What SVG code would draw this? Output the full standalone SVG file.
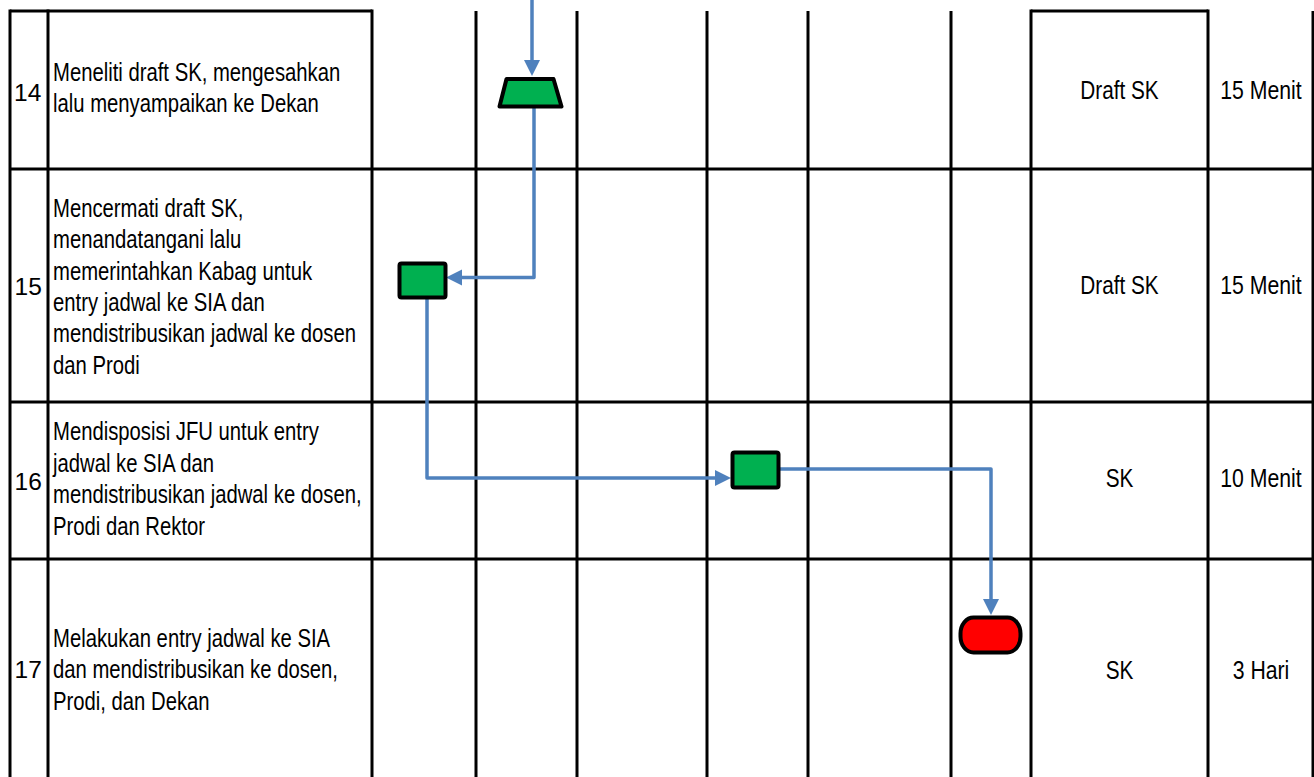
<svg xmlns="http://www.w3.org/2000/svg" width="1314" height="777" viewBox="0 0 1314 777">
  <defs>
    <marker id="arrow" markerUnits="userSpaceOnUse" markerWidth="18" markerHeight="17" refX="1" refY="8" orient="auto">
      <path d="M0,0 L16,8 L0,16 Z" fill="#4F81BD"/>
    </marker>
  </defs>
  <style>
    .grid line { stroke: #000; stroke-width: 3; }
    .desc { font-family: "Liberation Sans", Arial, sans-serif; font-size: 26px; fill: #000; }
    .num { font-family: "Liberation Sans", Arial, sans-serif; font-size: 24.5px; fill: #000; }
    .cell { font-family: "Liberation Sans", Arial, sans-serif; font-size: 25px; fill: #000; text-anchor: middle; }
    .proc { fill: #00B050; stroke: #000; stroke-width: 4; stroke-linejoin: round; }
    .term { fill: #FF0000; stroke: #000; stroke-width: 4; }
    .conn { fill: none; stroke: #4F81BD; stroke-width: 3.5; stroke-linejoin: round; marker-end: url(#arrow); }
  </style>
  <rect width="1314" height="777" fill="#fff"/>

  <!-- table grid -->
  <g id="grid" class="grid">
    <line x1="10" y1="11" x2="372" y2="11"/>
    <line x1="1031" y1="11" x2="1208" y2="11"/>
    <line x1="10" y1="169" x2="1314" y2="169"/>
    <line x1="10" y1="402" x2="1314" y2="402"/>
    <line x1="10" y1="559" x2="1314" y2="559"/>
    <line x1="10" y1="9.5" x2="10" y2="777"/>
    <line x1="48" y1="9.5" x2="48" y2="777"/>
    <line x1="372" y1="9.5" x2="372" y2="777"/>
    <line x1="476" y1="11" x2="476" y2="777"/>
    <line x1="577" y1="11" x2="577" y2="777"/>
    <line x1="707" y1="11" x2="707" y2="777"/>
    <line x1="808" y1="11" x2="808" y2="777"/>
    <line x1="951" y1="11" x2="951" y2="777"/>
    <line x1="1031" y1="9.5" x2="1031" y2="777"/>
    <line x1="1208" y1="9.5" x2="1208" y2="777"/>
    <line x1="1313" y1="11" x2="1313" y2="777"/>
  </g>

  <!-- step rows -->
  <g id="row-14">
    <text class="num" x="14" y="101">14</text>
    <text class="desc" transform="translate(53,81) scale(0.78,1)"><tspan x="0" y="0">Meneliti draft SK, mengesahkan</tspan><tspan x="0" y="31">lalu menyampaikan ke Dekan</tspan></text>
    <text class="cell" transform="translate(1119.5,99) scale(0.83,1)">Draft SK</text>
    <text class="cell" transform="translate(1261,99) scale(0.85,1)">15 Menit</text>
  </g>
  <g id="row-15">
    <text class="num" x="14.5" y="295">15</text>
    <text class="desc" transform="translate(53,217) scale(0.78,1)"><tspan x="0" y="0">Mencermati draft SK,</tspan><tspan x="0" y="31.3">menandatangani lalu</tspan><tspan x="0" y="62.6">memerintahkan Kabag untuk</tspan><tspan x="0" y="94">entry jadwal ke SIA dan</tspan><tspan x="0" y="125.3">mendistribusikan jadwal ke dosen</tspan><tspan x="0" y="156.6">dan Prodi</tspan></text>
    <text class="cell" transform="translate(1119.5,294) scale(0.83,1)">Draft SK</text>
    <text class="cell" transform="translate(1261,294) scale(0.85,1)">15 Menit</text>
  </g>
  <g id="row-16">
    <text class="num" x="14.5" y="490">16</text>
    <text class="desc" transform="translate(53,440) scale(0.78,1)"><tspan x="0" y="0">Mendisposisi JFU untuk entry</tspan><tspan x="0" y="31.7">jadwal ke SIA dan</tspan><tspan x="0" y="63.3">mendistribusikan jadwal ke dosen,</tspan><tspan x="0" y="95">Prodi dan Rektor</tspan></text>
    <text class="cell" transform="translate(1119.5,487) scale(0.83,1)">SK</text>
    <text class="cell" transform="translate(1261,487) scale(0.85,1)">10 Menit</text>
  </g>
  <g id="row-17">
    <text class="num" x="14.5" y="678">17</text>
    <text class="desc" transform="translate(53,647) scale(0.78,1)"><tspan x="0" y="0">Melakukan entry jadwal ke SIA</tspan><tspan x="0" y="31.5">dan mendistribusikan ke dosen,</tspan><tspan x="0" y="63">Prodi, dan Dekan</tspan></text>
    <text class="cell" transform="translate(1119.5,679) scale(0.83,1)">SK</text>
    <text class="cell" transform="translate(1261,679) scale(0.85,1)">3 Hari</text>
  </g>

  <!-- connectors -->
  <g id="connectors">
    <path class="conn" d="M532,0 V61"/>
    <path class="conn" d="M534,107 V277.5 H461"/>
    <path class="conn" d="M427,298 V478 H716"/>
    <path class="conn" d="M779,469 H991 V600"/>
  </g>

  <!-- flow symbols -->
  <g id="manual-op-14">
    <polygon class="proc" points="506.5,79 553.5,79 561.5,106.5 499.5,106.5"/>
  </g>
  <g id="process-15">
    <rect class="proc" x="399.5" y="263.5" width="46" height="34" rx="2"/>
  </g>
  <g id="process-16">
    <rect class="proc" x="732.5" y="452.5" width="46" height="35" rx="2"/>
  </g>
  <g id="end-17">
    <rect class="term" x="960.5" y="617.5" width="60" height="35" rx="13" ry="16"/>
  </g>
</svg>
